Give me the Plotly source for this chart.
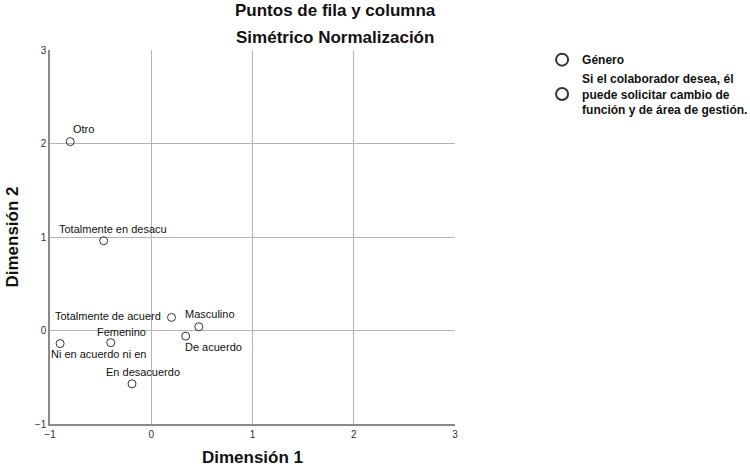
import plotly.graph_objects as go

# Data
genero_labels = ["Masculino", "Femenino", "Otro"]
genero_dim1 = [0.47, -0.40, -0.80]
genero_dim2 = [0.04, -0.13, 2.02]

cambio_labels = ["Totalmente en desacu", "Totalmente de acuerd", "De acuerdo",
                 "Ni en acuerdo ni en", "En desacuerdo"]
cambio_dim1 = [-0.47, 0.20, 0.34, -0.90, -0.19]
cambio_dim2 = [0.96, 0.14, -0.06, -0.14, -0.57]

legend_names = ["Género",
                "Si el colaborador desea, él<br>puede solicitar cambio de<br>función y de área de gestión."]
axis_ticks = [-1, 0, 1, 2, 3]

# label placement (style): xanchor, yanchor, xshift, yshift
label_style = {
    "Otro": ("center", "middle", 13, 13),
    "Totalmente en desacu": ("center", "middle", 9, 12),
    "Totalmente de acuerd": ("right", "middle", -9, 1),
    "Masculino": ("center", "middle", 11, 13),
    "De acuerdo": ("left", "middle", -3, -11),
    "Femenino": ("center", "middle", 11, 11),
    "Ni en acuerdo ni en": ("left", "middle", -11, -10),
    "En desacuerdo": ("center", "middle", 11, 12),
}

marker = dict(symbol="circle-open", size=8, color="#333333", line=dict(width=1, color="#333333"))

fig = go.Figure()
fig.add_trace(go.Scatter(x=genero_dim1, y=genero_dim2, mode="markers",
                         name="<b>" + legend_names[0] + "</b>", marker=marker, hoverinfo="skip"))
fig.add_trace(go.Scatter(x=cambio_dim1, y=cambio_dim2, mode="markers",
                         name="<b>" + legend_names[1] + "</b>", marker=marker, hoverinfo="skip"))

annotations = []
for labels, xs, ys in [(genero_labels, genero_dim1, genero_dim2),
                       (cambio_labels, cambio_dim1, cambio_dim2)]:
    for lab, x, y in zip(labels, xs, ys):
        xa, ya, dx, dy = label_style[lab]
        annotations.append(dict(x=x, y=y, xref="x", yref="y", text=lab, showarrow=False,
                                xanchor=xa, yanchor=ya, xshift=dx, yshift=dy,
                                font=dict(size=11, color="#111111",
                                          family="Liberation Sans, Arial, sans-serif")))

annotations += [
    dict(text="<b>Puntos de fila y columna</b>", xref="paper", yref="paper",
         x=(335 - 50) / 405, y=1, yshift=40, xanchor="center", yanchor="middle",
         showarrow=False, font=dict(size=17, color="#111111")),
    dict(text="<b>Simétrico Normalización</b>", xref="paper", yref="paper",
         x=(335 - 50) / 405, y=1, yshift=13, xanchor="center", yanchor="middle",
         showarrow=False, font=dict(size=17, color="#111111")),
]

fig.update_layout(
    width=750, height=471,
    margin=dict(l=50, r=295, t=50, b=47, autoexpand=False),
    paper_bgcolor="white", plot_bgcolor="white",
    font=dict(family="Liberation Sans, Arial, sans-serif", color="#333333"),
    showlegend=True,
    legend=dict(x=1.215, y=1.013, xanchor="left", yanchor="top",
                font=dict(size=12, color="#111111"), itemsizing="constant",
                tracegroupgap=2, bgcolor="rgba(0,0,0,0)"),
    annotations=annotations,
    xaxis=dict(range=[-1, 3], tickvals=axis_ticks, showgrid=True, gridcolor="#b5b5b5",
               gridwidth=1, zeroline=False, showline=True, linecolor="#8a8a8a", linewidth=1.5,
               ticks="", tickfont=dict(size=10, color="#333333"), automargin=False,
               title=dict(text="<b>Dimensión 1</b>", font=dict(size=17, color="#111111"),
                          standoff=12)),
    yaxis=dict(range=[-1, 3], tickvals=axis_ticks, showgrid=True, gridcolor="#b5b5b5",
               gridwidth=1, zeroline=False, showline=True, linecolor="#8a8a8a", linewidth=1.5,
               ticks="", tickfont=dict(size=10, color="#333333"), automargin=False,
               title=dict(text="<b>Dimensión 2</b>", font=dict(size=17, color="#111111"),
                          standoff=12)),
)

fig.write_html("out.html", config={"displayModeBar": False},
               post_script="document.body.style.margin='0';")
